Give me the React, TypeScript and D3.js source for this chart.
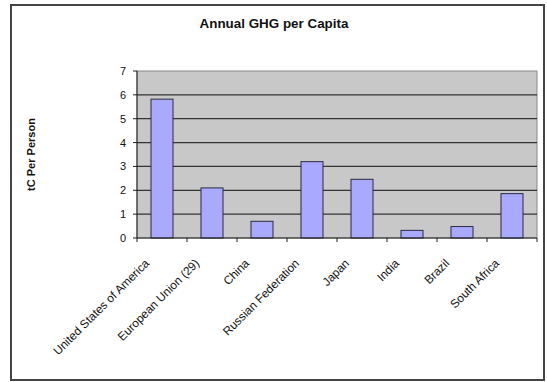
import React from 'react';
import * as d3 from 'd3';

const countries = [
  'United States of America',
  'European Union (29)',
  'China',
  'Russian Federation',
  'Japan',
  'India',
  'Brazil',
  'South Africa',
];
const ghgPerCapita = [5.82, 2.1, 0.7, 3.2, 2.46, 0.32, 0.48, 1.86];
const yTicks = [0, 1, 2, 3, 4, 5, 6, 7];

const font = "'Liberation Sans', Arial, sans-serif";

export default function App() {
  const width = 547;
  const height = 382;
  // plot area
  const left = 137, right = 537, top = 71, bottom = 238;

  const x = d3.scaleBand<string>().domain(countries).range([left, right]).paddingInner(0).paddingOuter(0);
  const y = d3.scaleLinear().domain([0, 7]).range([bottom, top]);
  const barW = 22;

  return (
    <div>
      <style>{'body{margin:0}'}</style>
      <svg width={width} height={height} style={{ display: 'block' }}>
        <rect x={0} y={0} width={width} height={height} fill="#fff" />
        {/* outer frame */}
        <rect x={11} y={5} width={533} height={375} fill="none" stroke="#444" strokeWidth={2} />

        <text x={274} y={28} textAnchor="middle" fontFamily={font} fontSize={13.4} fontWeight="bold" fill="#111">
          Annual GHG per Capita
        </text>

        <text
          transform={`translate(35,${(top + bottom) / 2}) rotate(-90)`}
          textAnchor="middle"
          fontFamily={font}
          fontSize={11}
          fontWeight="bold"
          fill="#111"
        >
          tC Per Person
        </text>

        {/* plot background */}
        <rect x={left} y={top} width={right - left} height={bottom - top} fill="#c8c8c8" stroke="#888" strokeWidth={1} />

        {/* gridlines */}
        {yTicks.filter(t => t > 0 && t < 7).map(t => (
          <line key={t} x1={left} x2={right} y1={y(t)} y2={y(t)} stroke="#333" strokeWidth={1.2} />
        ))}

        {/* bars */}
        {countries.map((c, i) => (
          <rect
            key={c}
            x={x(c)! + (x.bandwidth() - barW) / 2}
            y={y(ghgPerCapita[i])}
            width={barW}
            height={bottom - y(ghgPerCapita[i])}
            fill="#a9a9ff"
            stroke="#2b2b40"
            strokeWidth={1}
          />
        ))}

        {/* y axis */}
        <line x1={left} x2={left} y1={top} y2={bottom} stroke="#222" strokeWidth={1} />
        {yTicks.map(t => (
          <g key={t}>
            <line x1={left - 4} x2={left} y1={y(t)} y2={y(t)} stroke="#222" />
            <text x={left - 11} y={y(t) + 4} textAnchor="end" fontFamily={font} fontSize={11} fill="#111">
              {t}
            </text>
          </g>
        ))}

        {/* x axis */}
        <line x1={left} x2={right} y1={bottom} y2={bottom} stroke="#222" strokeWidth={1} />
        {d3.range(countries.length + 1).map(i => (
          <line key={i} x1={left + i * x.step()} x2={left + i * x.step()} y1={bottom} y2={bottom + 4} stroke="#222" />
        ))}
        {countries.map(c => (
          <text
            key={c}
            transform={`translate(${x(c)! + x.bandwidth() / 2 - 12},${bottom + 26}) rotate(-45)`}
            textAnchor="end"
            fontFamily={font}
            fontSize={11.8}
            fill="#111"
          >
            {c}
          </text>
        ))}
      </svg>
    </div>
  );
}
